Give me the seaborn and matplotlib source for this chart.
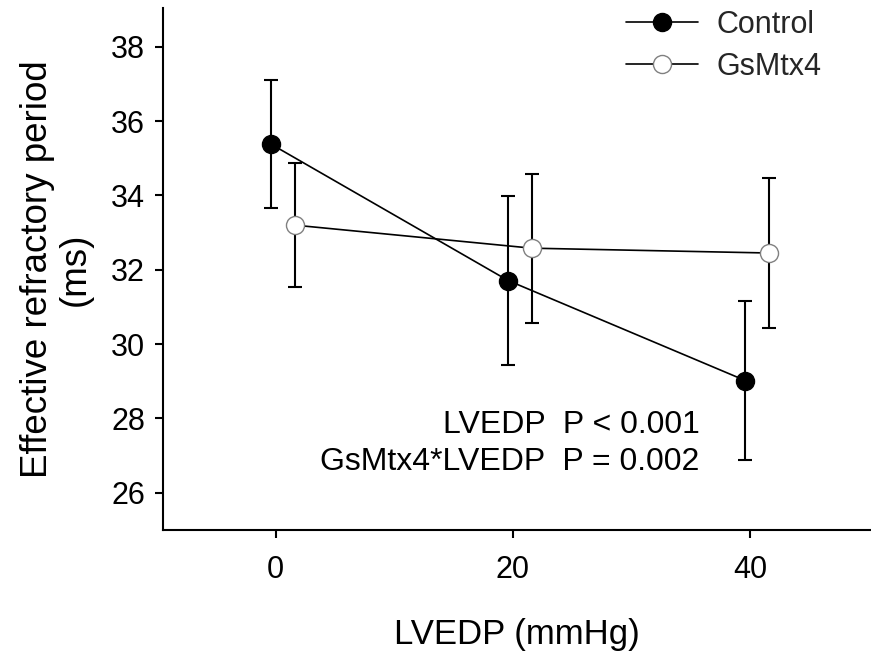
import matplotlib
matplotlib.use("Agg")
import matplotlib.pyplot as plt
from matplotlib.lines import Line2D
import pandas as pd
import seaborn as sns

# ---- data ----
groups = ["Control", "GsMtx4"]
control_x = [-0.4, 19.6, 39.6]
control_y = [35.38, 31.71, 29.02]
control_err = [1.73, 2.27, 2.14]
gs_x = [1.6, 21.6, 41.6]
gs_y = [33.20, 32.58, 32.45]
gs_err = [1.67, 2.00, 2.03]
x_ticks = [0, 20, 40]
y_ticks = [26, 28, 30, 32, 34, 36, 38]
annot_lines = ["LVEDP  P < 0.001", "GsMtx4*LVEDP  P = 0.002"]

sns.set_theme(style="ticks")
plt.rcParams["font.family"] = ["Liberation Sans", "DejaVu Sans"]

W, H = 871, 657
fig = plt.figure(figsize=(W / 100, H / 100), dpi=100)
ax = fig.add_axes([163 / W, 1 - 530 / H, (W - 163) / W, (530 - 8) / H])

df_c = pd.DataFrame({"LVEDP": control_x, "ERP": control_y})
df_g = pd.DataFrame({"LVEDP": gs_x, "ERP": gs_y})

ax.errorbar(control_x, control_y, yerr=control_err, fmt="none", ecolor="black",
            elinewidth=1.5, capsize=5, capthick=1.5, zorder=2)
ax.errorbar(gs_x, gs_y, yerr=gs_err, fmt="none", ecolor="black",
            elinewidth=1.5, capsize=5, capthick=1.5, zorder=2)

sns.lineplot(data=df_c, x="LVEDP", y="ERP", ax=ax, color="black", linewidth=1.2,
             marker="o", markersize=13, markerfacecolor="black",
             markeredgecolor="black", markeredgewidth=1.0, sort=False, zorder=3)
sns.lineplot(data=df_g, x="LVEDP", y="ERP", ax=ax, color="black", linewidth=1.2,
             marker="o", markersize=13, markerfacecolor="white",
             markeredgecolor="#808080", markeredgewidth=1.0, sort=False, zorder=3)

ax.set_xlim(-9.5, 50.2)
ax.set_ylim(25, 39.04)
ax.set_xticks(x_ticks)
ax.set_yticks(y_ticks)
ax.set_xticklabels([str(t) for t in x_ticks])
ax.set_yticklabels([str(t) for t in y_ticks])

for s in ["top", "right"]:
    ax.spines[s].set_visible(False)
for s in ["left", "bottom"]:
    ax.spines[s].set_linewidth(1.5)
    ax.spines[s].set_color("black")
ax.tick_params(direction="out", length=6, width=1.5, labelsize=22, pad=7, colors="black")
ax.tick_params(axis="x", pad=12)

ax.set_xlabel("LVEDP (mmHg)", fontsize=25, labelpad=24, color="black")
ax.set_ylabel("Effective refractory period\n(ms)", fontsize=26.5, labelpad=13,
              color="black", linespacing=1.1)

handles = [
    Line2D([], [], color="black", lw=1.2, marker="o", markersize=13,
           markerfacecolor="black", markeredgecolor="black"),
    Line2D([], [], color="black", lw=1.2, marker="o", markersize=13,
           markerfacecolor="white", markeredgecolor="#808080"),
]
leg = fig.legend(handles, groups, loc="upper left", bbox_to_anchor=(626 / W, 1 - 10 / H),
                 frameon=False, fontsize=22, handlelength=2.35, handletextpad=0.6,
                 labelspacing=0.38, borderpad=0, borderaxespad=0)

ax.text(0.758, (530 - 433) / 522, annot_lines[0], transform=ax.transAxes,
        ha="right", va="baseline", fontsize=23, color="black")
ax.text(0.758, (530 - 470) / 522, annot_lines[1], transform=ax.transAxes,
        ha="right", va="baseline", fontsize=23, color="black")

fig.savefig("out.png", dpi=100, facecolor="white")
